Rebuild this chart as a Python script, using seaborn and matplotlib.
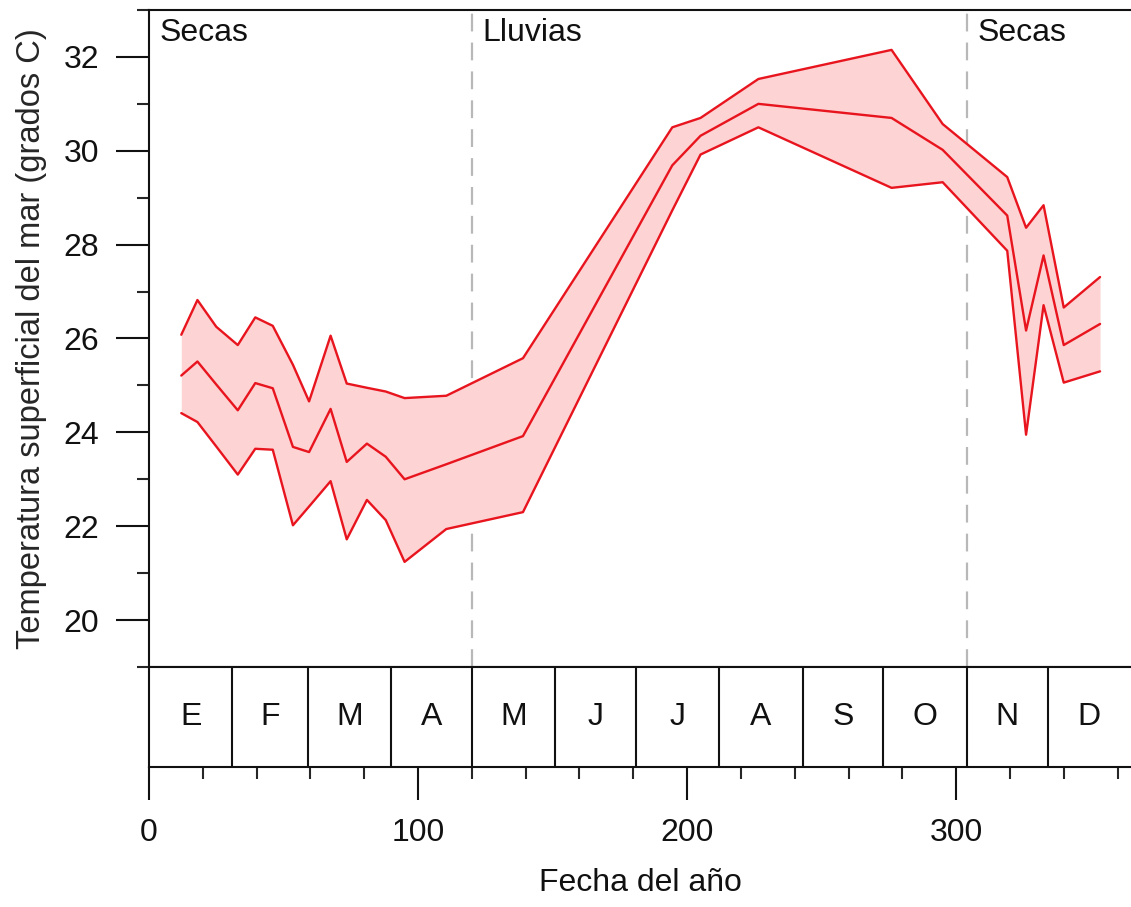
import numpy as np
import pandas as pd
import matplotlib
matplotlib.use("Agg")
import matplotlib.pyplot as plt
import seaborn as sns
from matplotlib.ticker import MultipleLocator, FixedLocator, NullFormatter

# ---------------- data ----------------
days = [12, 18, 25, 33, 39.5, 46, 53.5, 59.5, 67.5, 73.5, 81, 88, 95, 110.5,
        139, 194.5, 205, 226.5, 276, 295, 319, 326, 332.5, 340, 353.5]
upper = [26.08, 26.82, 26.25, 25.86, 26.45, 26.27, 25.44, 24.66, 26.06, 25.04,
         24.95, 24.87, 24.73, 24.78, 25.58, 30.50, 30.70, 31.53, 32.15, 30.57,
         29.44, 28.36, 28.84, 26.66, 27.31]
mean = [25.21, 25.51, 25.02, 24.47, 25.05, 24.94, 23.69, 23.58, 24.50, 23.37,
        23.76, 23.48, 23.00, 23.32, 23.92, 29.69, 30.32, 31.00, 30.70, 30.02,
        28.62, 26.17, 27.77, 25.86, 26.31]
lower = [24.41, 24.22, 23.70, 23.10, 23.65, 23.63, 22.02, 22.42, 22.96, 21.72,
         22.56, 22.13, 21.24, 21.94, 22.30, 28.73, 29.92, 30.50, 29.21, 29.33,
         27.87, 23.95, 26.71, 25.06, 25.30]

month_letters = ["E", "F", "M", "A", "M", "J", "J", "A", "S", "O", "N", "D"]
month_edges = [0, 31, 59, 90, 120, 151, 181, 212, 243, 273, 304, 334, 365]
season_labels = ["Secas", "Lluvias", "Secas"]
season_starts = [0, 120, 304]
season_breaks = [120, 304]
y_ticks = [20, 22, 24, 26, 28, 30, 32]
x_ticks = [0, 100, 200, 300]

# ---------------- style ----------------
sns.set_theme(style="ticks")
plt.rcParams['font.family'] = ['Liberation Sans', 'DejaVu Sans']
FS = 23
LINE_C = "#e8141e"
FILL_C = "#fdd3d3"

W, H = 1131, 907
fig = plt.figure(figsize=(W / 100, H / 100), dpi=100)
left = 149 / W
ax = fig.add_axes([left, 1 - 667 / H, 1 - left, (667 - 10) / H])
axm = fig.add_axes([left, 1 - 767 / H, 1 - left, 100 / H])

df = pd.DataFrame({"dia": days, "sup": upper, "media": mean, "inf": lower})

# fill band
ax.fill_between(df["dia"], df["inf"], df["sup"], color=FILL_C, lw=0, zorder=1)
for col in ["sup", "media", "inf"]:
    sns.lineplot(data=df, x="dia", y=col, ax=ax, color=LINE_C, lw=1.7,
                 zorder=3, legend=False)

# season separators and labels
for b in season_breaks:
    ax.axvline(b, color="#b8b8b8", lw=1.6, ls=(0, (8, 5)), zorder=0)
for s, lab in zip(season_starts, season_labels):
    ax.text(s + 4, 32.82, lab, fontsize=FS, va="top", ha="left", color="#111111")

ax.set_xlim(0, 365)
ax.set_ylim(19, 33)
ax.set_xlabel("")
ax.set_ylabel("Temperatura superficial del mar (grados C)", fontsize=23.5, labelpad=12)
ax.yaxis.set_major_locator(FixedLocator(y_ticks))
ax.yaxis.set_minor_locator(MultipleLocator(1))
ax.tick_params(axis="y", which="major", direction="out", length=24, width=1.5,
               labelsize=FS, pad=12, colors="#111111")
ax.tick_params(axis="y", which="minor", direction="out", length=8.5, width=1.5)
ax.tick_params(axis="x", which="both", bottom=False, labelbottom=False)
for sp in ["left", "top", "bottom"]:
    ax.spines[sp].set_linewidth(1.5)
    ax.spines[sp].set_color("#111111")
ax.spines["right"].set_visible(False)

# month band
axm.set_xlim(0, 365)
axm.set_ylim(0, 1)
for e in month_edges[1:-1]:
    axm.axvline(e, color="#111111", lw=1.5)
for i, lab in enumerate(month_letters):
    axm.text((month_edges[i] + month_edges[i + 1]) / 2, 0.5, lab, fontsize=FS,
             ha="center", va="center", color="#111111")
axm.set_yticks([])
axm.xaxis.set_major_locator(FixedLocator(x_ticks))
axm.xaxis.set_minor_locator(MultipleLocator(20))
axm.tick_params(axis="x", which="major", direction="out", length=24, width=1.5,
                labelsize=FS, pad=13, colors="#111111")
axm.tick_params(axis="x", which="minor", direction="out", length=8.5, width=1.5)
for sp in ["left", "top", "bottom"]:
    axm.spines[sp].set_linewidth(1.5)
    axm.spines[sp].set_color("#111111")
axm.spines["right"].set_visible(False)
axm.set_xlabel("Fecha del año", fontsize=FS, labelpad=14, color="#111111")

fig.savefig("out.png", dpi=100)
